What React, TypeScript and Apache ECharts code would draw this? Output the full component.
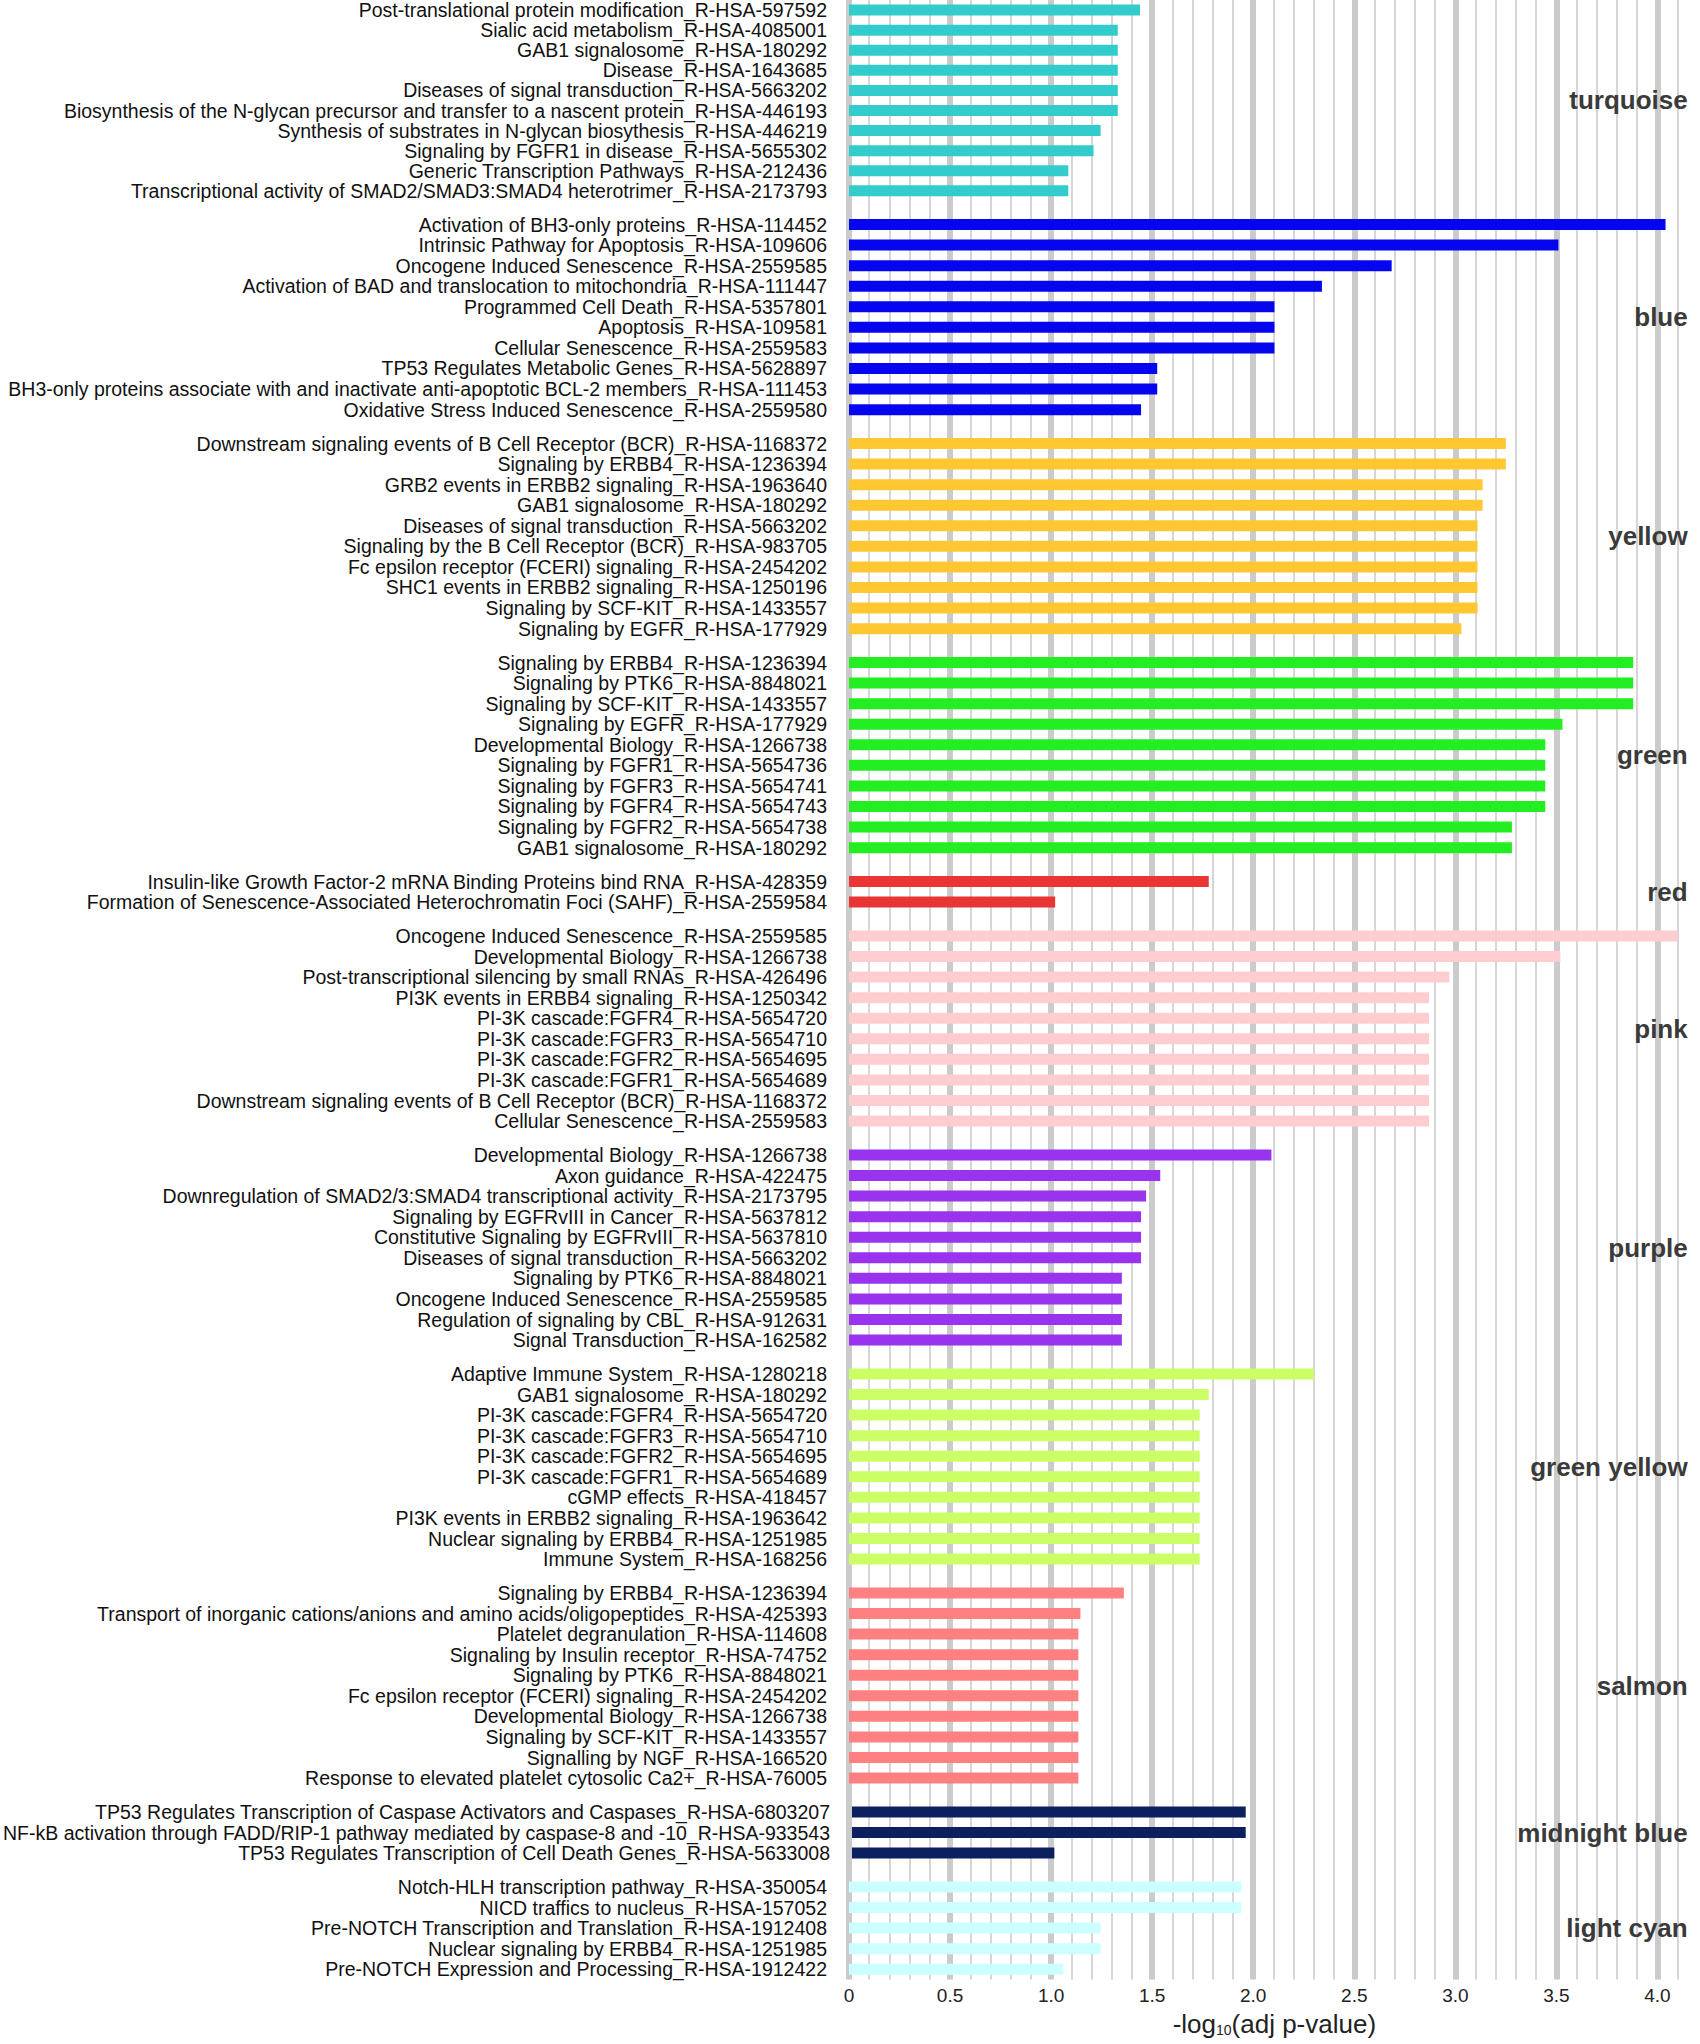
import React, { useEffect, useRef } from 'react';
import * as echarts from 'echarts';

const turquoiseTerms = [
  'Post-translational protein modification_R-HSA-597592',
  'Sialic acid metabolism_R-HSA-4085001',
  'GAB1 signalosome_R-HSA-180292',
  'Disease_R-HSA-1643685',
  'Diseases of signal transduction_R-HSA-5663202',
  'Biosynthesis of the N-glycan precursor and transfer to a nascent protein_R-HSA-446193',
  'Synthesis of substrates in N-glycan biosythesis_R-HSA-446219',
  'Signaling by FGFR1 in disease_R-HSA-5655302',
  'Generic Transcription Pathways_R-HSA-212436',
  'Transcriptional activity of SMAD2/SMAD3:SMAD4 heterotrimer_R-HSA-2173793',
];
const turquoiseValues = [1.44, 1.33, 1.33, 1.33, 1.33, 1.33, 1.245, 1.21, 1.085, 1.085];

const blueTerms = [
  'Activation of BH3-only proteins_R-HSA-114452',
  'Intrinsic Pathway for Apoptosis_R-HSA-109606',
  'Oncogene Induced Senescence_R-HSA-2559585',
  'Activation of BAD and translocation to mitochondria_R-HSA-111447',
  'Programmed Cell Death_R-HSA-5357801',
  'Apoptosis_R-HSA-109581',
  'Cellular Senescence_R-HSA-2559583',
  'TP53 Regulates Metabolic Genes_R-HSA-5628897',
  'BH3-only proteins associate with and inactivate anti-apoptotic BCL-2 members_R-HSA-111453',
  'Oxidative Stress Induced Senescence_R-HSA-2559580',
];
const blueValues = [4.04, 3.51, 2.685, 2.34, 2.105, 2.105, 2.105, 1.525, 1.525, 1.445];

const yellowTerms = [
  'Downstream signaling events of B Cell Receptor (BCR)_R-HSA-1168372',
  'Signaling by ERBB4_R-HSA-1236394',
  'GRB2 events in ERBB2 signaling_R-HSA-1963640',
  'GAB1 signalosome_R-HSA-180292',
  'Diseases of signal transduction_R-HSA-5663202',
  'Signaling by the B Cell Receptor (BCR)_R-HSA-983705',
  'Fc epsilon receptor (FCERI) signaling_R-HSA-2454202',
  'SHC1 events in ERBB2 signaling_R-HSA-1250196',
  'Signaling by SCF-KIT_R-HSA-1433557',
  'Signaling by EGFR_R-HSA-177929',
];
const yellowValues = [3.25, 3.25, 3.135, 3.135, 3.11, 3.11, 3.11, 3.11, 3.11, 3.03];

const greenTerms = [
  'Signaling by ERBB4_R-HSA-1236394',
  'Signaling by PTK6_R-HSA-8848021',
  'Signaling by SCF-KIT_R-HSA-1433557',
  'Signaling by EGFR_R-HSA-177929',
  'Developmental Biology_R-HSA-1266738',
  'Signaling by FGFR1_R-HSA-5654736',
  'Signaling by FGFR3_R-HSA-5654741',
  'Signaling by FGFR4_R-HSA-5654743',
  'Signaling by FGFR2_R-HSA-5654738',
  'GAB1 signalosome_R-HSA-180292',
];
const greenValues = [3.88, 3.88, 3.88, 3.53, 3.445, 3.445, 3.445, 3.445, 3.28, 3.28];

const redTerms = [
  'Insulin-like Growth Factor-2 mRNA Binding Proteins bind RNA_R-HSA-428359',
  'Formation of Senescence-Associated Heterochromatin Foci (SAHF)_R-HSA-2559584',
];
const redValues = [1.78, 1.02];

const pinkTerms = [
  'Oncogene Induced Senescence_R-HSA-2559585',
  'Developmental Biology_R-HSA-1266738',
  'Post-transcriptional silencing by small RNAs_R-HSA-426496',
  'PI3K events in ERBB4 signaling_R-HSA-1250342',
  'PI-3K cascade:FGFR4_R-HSA-5654720',
  'PI-3K cascade:FGFR3_R-HSA-5654710',
  'PI-3K cascade:FGFR2_R-HSA-5654695',
  'PI-3K cascade:FGFR1_R-HSA-5654689',
  'Downstream signaling events of B Cell Receptor (BCR)_R-HSA-1168372',
  'Cellular Senescence_R-HSA-2559583',
];
const pinkValues = [4.1, 3.52, 2.97, 2.87, 2.87, 2.87, 2.87, 2.87, 2.87, 2.87];

const purpleTerms = [
  'Developmental Biology_R-HSA-1266738',
  'Axon guidance_R-HSA-422475',
  'Downregulation of SMAD2/3:SMAD4 transcriptional activity_R-HSA-2173795',
  'Signaling by EGFRvIII in Cancer_R-HSA-5637812',
  'Constitutive Signaling by EGFRvIII_R-HSA-5637810',
  'Diseases of signal transduction_R-HSA-5663202',
  'Signaling by PTK6_R-HSA-8848021',
  'Oncogene Induced Senescence_R-HSA-2559585',
  'Regulation of signaling by CBL_R-HSA-912631',
  'Signal Transduction_R-HSA-162582',
];
const purpleValues = [2.09, 1.54, 1.47, 1.445, 1.445, 1.445, 1.35, 1.35, 1.35, 1.35];

const greenYellowTerms = [
  'Adaptive Immune System_R-HSA-1280218',
  'GAB1 signalosome_R-HSA-180292',
  'PI-3K cascade:FGFR4_R-HSA-5654720',
  'PI-3K cascade:FGFR3_R-HSA-5654710',
  'PI-3K cascade:FGFR2_R-HSA-5654695',
  'PI-3K cascade:FGFR1_R-HSA-5654689',
  'cGMP effects_R-HSA-418457',
  'PI3K events in ERBB2 signaling_R-HSA-1963642',
  'Nuclear signaling by ERBB4_R-HSA-1251985',
  'Immune System_R-HSA-168256',
];
const greenYellowValues = [2.3, 1.78, 1.735, 1.735, 1.735, 1.735, 1.735, 1.735, 1.735, 1.735];

const salmonTerms = [
  'Signaling by ERBB4_R-HSA-1236394',
  'Transport of inorganic cations/anions and amino acids/oligopeptides_R-HSA-425393',
  'Platelet degranulation_R-HSA-114608',
  'Signaling by Insulin receptor_R-HSA-74752',
  'Signaling by PTK6_R-HSA-8848021',
  'Fc epsilon receptor (FCERI) signaling_R-HSA-2454202',
  'Developmental Biology_R-HSA-1266738',
  'Signaling by SCF-KIT_R-HSA-1433557',
  'Signalling by NGF_R-HSA-166520',
  'Response to elevated platelet cytosolic Ca2+_R-HSA-76005',
];
const salmonValues = [1.36, 1.145, 1.135, 1.135, 1.135, 1.135, 1.135, 1.135, 1.135, 1.135];

const midnightBlueTerms = [
  'TP53 Regulates Transcription of Caspase Activators and Caspases_R-HSA-6803207',
  'NF-kB activation through FADD/RIP-1 pathway mediated by caspase-8 and -10_R-HSA-933543',
  'TP53 Regulates Transcription of Cell Death Genes_R-HSA-5633008',
];
const midnightBlueValues = [1.955, 1.955, 1.005];

const lightCyanTerms = [
  'Notch-HLH transcription pathway_R-HSA-350054',
  'NICD traffics to nucleus_R-HSA-157052',
  'Pre-NOTCH Transcription and Translation_R-HSA-1912408',
  'Nuclear signaling by ERBB4_R-HSA-1251985',
  'Pre-NOTCH Expression and Processing_R-HSA-1912422',
];
const lightCyanValues = [1.94, 1.94, 1.245, 1.245, 1.06];

const groupNames = [
  'turquoise', 'blue', 'yellow', 'green', 'red', 'pink', 'purple',
  'green yellow', 'salmon', 'midnight blue', 'light cyan',
];
const groupColors = [
  '#33CCCC', '#0505F0', '#FFC832', '#22EE22', '#EA3535', '#FFCCD0',
  '#9933EE', '#CCFF66', '#FF8080', '#0C1F5F', '#CCFFFF',
];
const groupTerms = [
  turquoiseTerms, blueTerms, yellowTerms, greenTerms, redTerms, pinkTerms,
  purpleTerms, greenYellowTerms, salmonTerms, midnightBlueTerms, lightCyanTerms,
];
const groupValues = [
  turquoiseValues, blueValues, yellowValues, greenValues, redValues, pinkValues,
  purpleValues, greenYellowValues, salmonValues, midnightBlueValues, lightCyanValues,
];

const X_MIN = 0;
const X_MAX = 4.12;
const MAJOR_STEP = 0.5;
const MINOR_STEP = 0.1;
const AXIS_TITLE = '-log{sub|10}(adj p-value)';

export default function App() {
  const ref = useRef<HTMLDivElement>(null);

  useEffect(() => {
    if (!ref.current) return;
    const chart = echarts.init(ref.current, null, { renderer: 'svg' });
    const FONT = '"Liberation Sans", Arial, Helvetica, sans-serif';
    const ROW = 20.57;
    const GAP = 13.3;
    const FIRST_CENTER = 5.5;
    const LEFT = 849;
    const RIGHT = 18.3;
    const plotTop = FIRST_CENTER - ROW / 2;
    const totalRows = groupTerms.reduce((s, t) => s + t.length, 0);
    const plotBottom = plotTop + totalRows * ROW + (groupNames.length - 1) * GAP;

    const grids: any[] = [];
    const xAxes: any[] = [];
    const yAxes: any[] = [];
    const series: any[] = [];

    grids.push({ left: LEFT, right: RIGHT, top: -20, height: plotBottom + 20 });
    xAxes.push({
      gridIndex: 0, type: 'value', position: 'top', min: X_MIN, max: X_MAX, interval: MINOR_STEP,
      axisLine: { show: false }, axisTick: { show: false }, axisLabel: { show: false },
      splitLine: { show: true, showMaxLine: false, lineStyle: { color: '#D6D6D6', width: 2 } },
    });
    xAxes.push({
      gridIndex: 0, type: 'value', position: 'bottom', min: X_MIN, max: X_MAX, interval: MAJOR_STEP,
      axisLine: { show: false }, axisTick: { show: false },
      splitLine: { show: true, showMaxLine: false, lineStyle: { color: '#CBCBCB', width: 6 } },
      axisLabel: {
        showMaxLabel: false, margin: 6, fontSize: 19, color: '#222', fontFamily: FONT,
        formatter: (v: number) => (v === 0 ? '0' : v.toFixed(1)),
      },
      name: AXIS_TITLE, nameLocation: 'middle', nameGap: 31,
      nameTextStyle: {
        fontSize: 26, color: '#222', fontFamily: FONT, padding: [0, 0, 0, 18],
        rich: { sub: { fontSize: 14, color: '#222', fontFamily: FONT, verticalAlign: 'bottom' } },
      },
    });
    yAxes.push({ gridIndex: 0, type: 'value', show: false, min: 0, max: 1 });

    let rowsBefore = 0;
    groupNames.forEach((name, k) => {
      const n = groupTerms[k].length;
      const top = plotTop + rowsBefore * ROW + k * GAP;
      grids.push({ left: LEFT, right: RIGHT, top, height: n * ROW });
      const xi = xAxes.length;
      xAxes.push({ gridIndex: k + 1, type: 'value', min: X_MIN, max: X_MAX, show: false, splitLine: { show: false } });
      const yi = yAxes.length;
      yAxes.push({
        gridIndex: k + 1, type: 'category', inverse: true, data: groupTerms[k],
        axisLine: { show: false }, axisTick: { show: false }, splitLine: { show: false },
        axisLabel: { interval: 0, margin: 22, fontSize: 19.5, color: '#111', fontFamily: FONT },
      });
      yAxes.push({
        gridIndex: k + 1, type: 'category', position: 'right', data: [name],
        axisLine: { show: false }, axisTick: { show: false }, splitLine: { show: false },
        axisLabel: {
          interval: 0, margin: 6, align: 'right', fontSize: 26, fontWeight: 'bold',
          color: '#3A3A3A', fontFamily: FONT,
        },
      });
      series.push({
        type: 'bar', name, xAxisIndex: xi, yAxisIndex: yi, data: groupValues[k],
        barWidth: 11, itemStyle: { color: groupColors[k] }, silent: true,
      });
      rowsBefore += n;
    });

    chart.setOption({
      animation: false,
      backgroundColor: '#ffffff',
      grid: grids,
      xAxis: xAxes,
      yAxis: yAxes,
      series,
    });
    return () => chart.dispose();
  }, []);

  return (
    <div
      ref={ref}
      style={{ position: 'absolute', left: 0, top: 0, width: 1700, height: 2044, background: '#fff' }}
    />
  );
}
